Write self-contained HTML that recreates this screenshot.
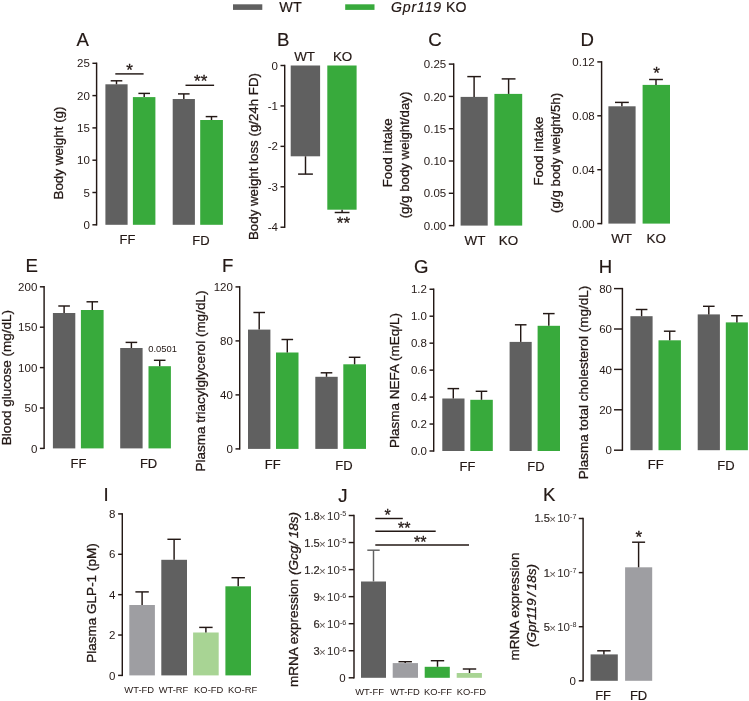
<!DOCTYPE html>
<html lang="en">
<head>
<meta charset="utf-8">
<title>Figure</title>
<style>
html,body{margin:0;padding:0;background:#fff;}
body{width:749px;height:701px;overflow:hidden;}
svg{display:block;}
svg text{font-family:"Liberation Sans",Arial,Helvetica,sans-serif;stroke:#231815;stroke-width:0.18px;}
svg text.t{stroke:none;}
svg text.b{stroke-width:0.3px;}
</style>
</head>
<body>
<svg width="749" height="701" viewBox="0 0 749 701">
<rect x="0" y="0" width="749" height="701" fill="#ffffff"/>
<rect x="233" y="4.3" width="29.3" height="5.6" fill="#606060"/>
<rect x="345.2" y="4.3" width="29.3" height="5.6" fill="#38aa3c"/>
<text x="279.3" y="12.2" font-size="14.4" text-anchor="start" fill="#231815">WT</text>
<text x="391" y="12.2" font-size="14.1" text-anchor="start" fill="#231815"><tspan font-style="italic" letter-spacing="0.85">Gpr119</tspan> KO</text>
<text x="76.5" y="46.4" font-size="18.6" text-anchor="start" fill="#231815">A</text>
<line x1="96.6" y1="62.58" x2="96.6" y2="225.53" stroke="#231815" stroke-width="1.45"/>
<line x1="92.4" y1="224.8" x2="96.6" y2="224.8" stroke="#231815" stroke-width="1.45"/>
<text x="89.8" y="228.9" font-size="11.5" text-anchor="end" fill="#231815" class="t">0</text>
<line x1="92.4" y1="192.5" x2="96.6" y2="192.5" stroke="#231815" stroke-width="1.45"/>
<text x="89.8" y="196.6" font-size="11.5" text-anchor="end" fill="#231815" class="t">5</text>
<line x1="92.4" y1="160.2" x2="96.6" y2="160.2" stroke="#231815" stroke-width="1.45"/>
<text x="89.8" y="164.3" font-size="11.5" text-anchor="end" fill="#231815" class="t">10</text>
<line x1="92.4" y1="127.9" x2="96.6" y2="127.9" stroke="#231815" stroke-width="1.45"/>
<text x="89.8" y="132" font-size="11.5" text-anchor="end" fill="#231815" class="t">15</text>
<line x1="92.4" y1="95.6" x2="96.6" y2="95.6" stroke="#231815" stroke-width="1.45"/>
<text x="89.8" y="99.7" font-size="11.5" text-anchor="end" fill="#231815" class="t">20</text>
<line x1="92.4" y1="63.3" x2="96.6" y2="63.3" stroke="#231815" stroke-width="1.45"/>
<text x="89.8" y="67.4" font-size="11.5" text-anchor="end" fill="#231815" class="t">25</text>
<text x="63.4" y="153" font-size="13.4" text-anchor="middle" fill="#231815" transform="rotate(-90 63.4 153)" class="b">Body weight (g)</text>
<rect x="105.4" y="84.3" width="22.2" height="140.5" fill="#606060"/>
<line x1="116.5" y1="84.3" x2="116.5" y2="80.8" stroke="#231815" stroke-width="1.45"/>
<line x1="110.7" y1="80.8" x2="122.3" y2="80.8" stroke="#231815" stroke-width="1.45"/>
<rect x="132.9" y="97.1" width="22.5" height="127.7" fill="#38aa3c"/>
<line x1="144.2" y1="97.1" x2="144.2" y2="93.4" stroke="#231815" stroke-width="1.45"/>
<line x1="138.4" y1="93.4" x2="150" y2="93.4" stroke="#231815" stroke-width="1.45"/>
<rect x="172.7" y="99" width="22.2" height="125.8" fill="#606060"/>
<line x1="183.8" y1="99" x2="183.8" y2="93.9" stroke="#231815" stroke-width="1.45"/>
<line x1="178" y1="93.9" x2="189.6" y2="93.9" stroke="#231815" stroke-width="1.45"/>
<rect x="200.2" y="120" width="22.7" height="104.8" fill="#38aa3c"/>
<line x1="211.5" y1="120" x2="211.5" y2="116.6" stroke="#231815" stroke-width="1.45"/>
<line x1="205.7" y1="116.6" x2="217.3" y2="116.6" stroke="#231815" stroke-width="1.45"/>
<line x1="115.3" y1="73.9" x2="143.6" y2="73.9" stroke="#231815" stroke-width="1.45"/>
<text x="129.5" y="75.5" font-size="17" text-anchor="middle" fill="#231815" class="b">*</text>
<line x1="185.5" y1="85.3" x2="214.1" y2="85.3" stroke="#231815" stroke-width="1.45"/>
<text x="200.7" y="87" font-size="17" text-anchor="middle" fill="#231815" class="b">**</text>
<text x="127.5" y="244.4" font-size="13" text-anchor="middle" fill="#231815">FF</text>
<text x="200.9" y="245" font-size="13" text-anchor="middle" fill="#231815">FD</text>
<text x="277" y="45.6" font-size="18.6" text-anchor="start" fill="#231815">B</text>
<line x1="284.7" y1="64.78" x2="284.7" y2="227.94" stroke="#231815" stroke-width="1.45"/>
<line x1="280.5" y1="65.5" x2="284.7" y2="65.5" stroke="#231815" stroke-width="1.45"/>
<text x="277.9" y="69.6" font-size="11.5" text-anchor="end" fill="#231815" class="t">0</text>
<line x1="280.5" y1="105.93" x2="284.7" y2="105.93" stroke="#231815" stroke-width="1.45"/>
<text x="277.9" y="110.03" font-size="11.5" text-anchor="end" fill="#231815" class="t">-1</text>
<line x1="280.5" y1="146.36" x2="284.7" y2="146.36" stroke="#231815" stroke-width="1.45"/>
<text x="277.9" y="150.46" font-size="11.5" text-anchor="end" fill="#231815" class="t">-2</text>
<line x1="280.5" y1="186.79" x2="284.7" y2="186.79" stroke="#231815" stroke-width="1.45"/>
<text x="277.9" y="190.89" font-size="11.5" text-anchor="end" fill="#231815" class="t">-3</text>
<line x1="280.5" y1="227.22" x2="284.7" y2="227.22" stroke="#231815" stroke-width="1.45"/>
<text x="277.9" y="231.32" font-size="11.5" text-anchor="end" fill="#231815" class="t">-4</text>
<text x="257.6" y="156.5" font-size="13.3" text-anchor="middle" fill="#231815" transform="rotate(-90 257.6 156.5)" class="b">Body weight loss (g/24h FD)</text>
<rect x="290.7" y="65.5" width="29.4" height="90.8" fill="#606060"/>
<line x1="305.5" y1="156.3" x2="305.5" y2="174.1" stroke="#231815" stroke-width="1.45"/>
<line x1="298.1" y1="174.1" x2="312.9" y2="174.1" stroke="#231815" stroke-width="1.45"/>
<rect x="327.3" y="65.5" width="29.3" height="144.2" fill="#38aa3c"/>
<line x1="342.1" y1="209.7" x2="342.1" y2="212.5" stroke="#231815" stroke-width="1.45"/>
<line x1="334.7" y1="212.5" x2="349.5" y2="212.5" stroke="#231815" stroke-width="1.45"/>
<text x="304.6" y="60.7" font-size="13.4" text-anchor="middle" fill="#231815">WT</text>
<text x="342.6" y="60.7" font-size="13.4" text-anchor="middle" fill="#231815">KO</text>
<text x="343.4" y="229.4" font-size="17" text-anchor="middle" fill="#231815" class="b">**</text>
<text x="428.2" y="46.4" font-size="18.6" text-anchor="start" fill="#231815">C</text>
<line x1="453.7" y1="63.37" x2="453.7" y2="226.32" stroke="#231815" stroke-width="1.45"/>
<line x1="448.8" y1="225.6" x2="453.7" y2="225.6" stroke="#231815" stroke-width="1.45"/>
<text x="446.2" y="229.7" font-size="11.5" text-anchor="end" fill="#231815" class="t">0.00</text>
<line x1="448.8" y1="193.3" x2="453.7" y2="193.3" stroke="#231815" stroke-width="1.45"/>
<text x="446.2" y="197.4" font-size="11.5" text-anchor="end" fill="#231815" class="t">0.05</text>
<line x1="448.8" y1="161" x2="453.7" y2="161" stroke="#231815" stroke-width="1.45"/>
<text x="446.2" y="165.1" font-size="11.5" text-anchor="end" fill="#231815" class="t">0.10</text>
<line x1="448.8" y1="128.7" x2="453.7" y2="128.7" stroke="#231815" stroke-width="1.45"/>
<text x="446.2" y="132.8" font-size="11.5" text-anchor="end" fill="#231815" class="t">0.15</text>
<line x1="448.8" y1="96.4" x2="453.7" y2="96.4" stroke="#231815" stroke-width="1.45"/>
<text x="446.2" y="100.5" font-size="11.5" text-anchor="end" fill="#231815" class="t">0.20</text>
<line x1="448.8" y1="64.1" x2="453.7" y2="64.1" stroke="#231815" stroke-width="1.45"/>
<text x="446.2" y="68.2" font-size="11.5" text-anchor="end" fill="#231815" class="t">0.25</text>
<text x="392.4" y="152.8" font-size="13.2" text-anchor="middle" fill="#231815" transform="rotate(-90 392.4 152.8)" class="b">Food intake</text>
<text x="409.4" y="155" font-size="13.25" text-anchor="middle" fill="#231815" transform="rotate(-90 409.4 155)" class="b">(g/g body weight/day)</text>
<rect x="460.6" y="96.9" width="27.1" height="128.7" fill="#606060"/>
<line x1="474.1" y1="96.9" x2="474.1" y2="76.6" stroke="#231815" stroke-width="1.45"/>
<line x1="467.3" y1="76.6" x2="480.9" y2="76.6" stroke="#231815" stroke-width="1.45"/>
<rect x="494.4" y="93.9" width="27.8" height="131.7" fill="#38aa3c"/>
<line x1="508.6" y1="93.9" x2="508.6" y2="78.9" stroke="#231815" stroke-width="1.45"/>
<line x1="501.7" y1="78.9" x2="515.5" y2="78.9" stroke="#231815" stroke-width="1.45"/>
<text x="475" y="245.2" font-size="13.4" text-anchor="middle" fill="#231815">WT</text>
<text x="508.5" y="245.2" font-size="13.4" text-anchor="middle" fill="#231815">KO</text>
<text x="580.4" y="46.4" font-size="18.6" text-anchor="start" fill="#231815">D</text>
<line x1="601.6" y1="61.18" x2="601.6" y2="224.32" stroke="#231815" stroke-width="1.45"/>
<line x1="597.3" y1="223.6" x2="601.6" y2="223.6" stroke="#231815" stroke-width="1.45"/>
<text x="594.7" y="227.7" font-size="11.5" text-anchor="end" fill="#231815" class="t">0.00</text>
<line x1="597.3" y1="169.7" x2="601.6" y2="169.7" stroke="#231815" stroke-width="1.45"/>
<text x="594.7" y="173.8" font-size="11.5" text-anchor="end" fill="#231815" class="t">0.04</text>
<line x1="597.3" y1="115.8" x2="601.6" y2="115.8" stroke="#231815" stroke-width="1.45"/>
<text x="594.7" y="119.9" font-size="11.5" text-anchor="end" fill="#231815" class="t">0.08</text>
<line x1="597.3" y1="61.9" x2="601.6" y2="61.9" stroke="#231815" stroke-width="1.45"/>
<text x="594.7" y="66" font-size="11.5" text-anchor="end" fill="#231815" class="t">0.12</text>
<text x="543" y="151" font-size="13.2" text-anchor="middle" fill="#231815" transform="rotate(-90 543 151)" class="b">Food intake</text>
<text x="560" y="152.9" font-size="13.25" text-anchor="middle" fill="#231815" transform="rotate(-90 560 152.9)" class="b">(g/g body weight/5h)</text>
<rect x="608.4" y="106.3" width="27.2" height="117.3" fill="#606060"/>
<line x1="621.9" y1="106.3" x2="621.9" y2="102.4" stroke="#231815" stroke-width="1.45"/>
<line x1="615" y1="102.4" x2="628.8" y2="102.4" stroke="#231815" stroke-width="1.45"/>
<rect x="642.6" y="84.9" width="27.4" height="138.7" fill="#38aa3c"/>
<line x1="656" y1="84.9" x2="656" y2="79.5" stroke="#231815" stroke-width="1.45"/>
<line x1="649.1" y1="79.5" x2="662.9" y2="79.5" stroke="#231815" stroke-width="1.45"/>
<text x="656.6" y="79.4" font-size="17" text-anchor="middle" fill="#231815" class="b">*</text>
<text x="621.6" y="243.3" font-size="13.4" text-anchor="middle" fill="#231815">WT</text>
<text x="656.3" y="243.3" font-size="13.4" text-anchor="middle" fill="#231815">KO</text>
<text x="25.6" y="272.4" font-size="18.6" text-anchor="start" fill="#231815">E</text>
<line x1="44.1" y1="286.07" x2="44.1" y2="449.12" stroke="#231815" stroke-width="1.45"/>
<line x1="39.9" y1="448.4" x2="44.1" y2="448.4" stroke="#231815" stroke-width="1.45"/>
<text x="37.3" y="452.5" font-size="11.5" text-anchor="end" fill="#231815" class="t">0</text>
<line x1="39.9" y1="408" x2="44.1" y2="408" stroke="#231815" stroke-width="1.45"/>
<text x="37.3" y="412.1" font-size="11.5" text-anchor="end" fill="#231815" class="t">50</text>
<line x1="39.9" y1="367.6" x2="44.1" y2="367.6" stroke="#231815" stroke-width="1.45"/>
<text x="37.3" y="371.7" font-size="11.5" text-anchor="end" fill="#231815" class="t">100</text>
<line x1="39.9" y1="327.2" x2="44.1" y2="327.2" stroke="#231815" stroke-width="1.45"/>
<text x="37.3" y="331.3" font-size="11.5" text-anchor="end" fill="#231815" class="t">150</text>
<line x1="39.9" y1="286.8" x2="44.1" y2="286.8" stroke="#231815" stroke-width="1.45"/>
<text x="37.3" y="290.9" font-size="11.5" text-anchor="end" fill="#231815" class="t">200</text>
<text x="11" y="377.6" font-size="13.5" text-anchor="middle" fill="#231815" transform="rotate(-90 11 377.6)" class="b">Blood glucose (mg/dL)</text>
<rect x="52.9" y="313" width="22.4" height="135.4" fill="#606060"/>
<line x1="64.1" y1="313" x2="64.1" y2="306" stroke="#231815" stroke-width="1.45"/>
<line x1="58.3" y1="306" x2="69.9" y2="306" stroke="#231815" stroke-width="1.45"/>
<rect x="80.9" y="310" width="22.7" height="138.4" fill="#38aa3c"/>
<line x1="92.3" y1="310" x2="92.3" y2="301.8" stroke="#231815" stroke-width="1.45"/>
<line x1="86.5" y1="301.8" x2="98.1" y2="301.8" stroke="#231815" stroke-width="1.45"/>
<rect x="120.2" y="348" width="22.4" height="100.4" fill="#606060"/>
<line x1="131.4" y1="348" x2="131.4" y2="342.4" stroke="#231815" stroke-width="1.45"/>
<line x1="125.6" y1="342.4" x2="137.2" y2="342.4" stroke="#231815" stroke-width="1.45"/>
<rect x="148.5" y="366.2" width="22.4" height="82.2" fill="#38aa3c"/>
<line x1="159.7" y1="366.2" x2="159.7" y2="360.3" stroke="#231815" stroke-width="1.45"/>
<line x1="153.9" y1="360.3" x2="165.5" y2="360.3" stroke="#231815" stroke-width="1.45"/>
<text x="148.2" y="352.3" font-size="9.4" text-anchor="start" fill="#231815" class="t">0.0501</text>
<text x="78.5" y="467.5" font-size="13" text-anchor="middle" fill="#231815">FF</text>
<text x="148.6" y="468" font-size="13" text-anchor="middle" fill="#231815">FD</text>
<text x="221.9" y="272.4" font-size="18.6" text-anchor="start" fill="#231815">F</text>
<line x1="239.7" y1="286.17" x2="239.7" y2="449.62" stroke="#231815" stroke-width="1.45"/>
<line x1="235.5" y1="448.9" x2="239.7" y2="448.9" stroke="#231815" stroke-width="1.45"/>
<text x="232.9" y="453" font-size="11.5" text-anchor="end" fill="#231815" class="t">0</text>
<line x1="235.5" y1="394.9" x2="239.7" y2="394.9" stroke="#231815" stroke-width="1.45"/>
<text x="232.9" y="399" font-size="11.5" text-anchor="end" fill="#231815" class="t">40</text>
<line x1="235.5" y1="340.9" x2="239.7" y2="340.9" stroke="#231815" stroke-width="1.45"/>
<text x="232.9" y="345" font-size="11.5" text-anchor="end" fill="#231815" class="t">80</text>
<line x1="235.5" y1="286.9" x2="239.7" y2="286.9" stroke="#231815" stroke-width="1.45"/>
<text x="232.9" y="291" font-size="11.5" text-anchor="end" fill="#231815" class="t">120</text>
<text x="204.5" y="381" font-size="13.5" text-anchor="middle" fill="#231815" transform="rotate(-90 204.5 381)" class="b">Plasma triacylglycerol (mg/dL)</text>
<rect x="248" y="329.6" width="22.4" height="119.3" fill="#606060"/>
<line x1="259.2" y1="329.6" x2="259.2" y2="312.5" stroke="#231815" stroke-width="1.45"/>
<line x1="253.4" y1="312.5" x2="265" y2="312.5" stroke="#231815" stroke-width="1.45"/>
<rect x="276" y="352.5" width="22.5" height="96.4" fill="#38aa3c"/>
<line x1="287.3" y1="352.5" x2="287.3" y2="339.5" stroke="#231815" stroke-width="1.45"/>
<line x1="281.5" y1="339.5" x2="293.1" y2="339.5" stroke="#231815" stroke-width="1.45"/>
<rect x="315.3" y="376.8" width="22.4" height="72.1" fill="#606060"/>
<line x1="326.5" y1="376.8" x2="326.5" y2="372.8" stroke="#231815" stroke-width="1.45"/>
<line x1="320.7" y1="372.8" x2="332.3" y2="372.8" stroke="#231815" stroke-width="1.45"/>
<rect x="343.3" y="364.3" width="22.7" height="84.6" fill="#38aa3c"/>
<line x1="354.6" y1="364.3" x2="354.6" y2="357.3" stroke="#231815" stroke-width="1.45"/>
<line x1="348.8" y1="357.3" x2="360.4" y2="357.3" stroke="#231815" stroke-width="1.45"/>
<text x="272.7" y="468.9" font-size="13" text-anchor="middle" fill="#231815">FF</text>
<text x="343.9" y="469.7" font-size="13" text-anchor="middle" fill="#231815">FD</text>
<text x="414" y="272.7" font-size="18.6" text-anchor="start" fill="#231815">G</text>
<line x1="433.7" y1="288.51" x2="433.7" y2="451.73" stroke="#231815" stroke-width="1.45"/>
<line x1="429.5" y1="451" x2="433.7" y2="451" stroke="#231815" stroke-width="1.45"/>
<text x="426.9" y="455.1" font-size="11.5" text-anchor="end" fill="#231815" class="t">0.0</text>
<line x1="429.5" y1="424.04" x2="433.7" y2="424.04" stroke="#231815" stroke-width="1.45"/>
<text x="426.9" y="428.14" font-size="11.5" text-anchor="end" fill="#231815" class="t">0.2</text>
<line x1="429.5" y1="397.08" x2="433.7" y2="397.08" stroke="#231815" stroke-width="1.45"/>
<text x="426.9" y="401.18" font-size="11.5" text-anchor="end" fill="#231815" class="t">0.4</text>
<line x1="429.5" y1="370.12" x2="433.7" y2="370.12" stroke="#231815" stroke-width="1.45"/>
<text x="426.9" y="374.22" font-size="11.5" text-anchor="end" fill="#231815" class="t">0.6</text>
<line x1="429.5" y1="343.16" x2="433.7" y2="343.16" stroke="#231815" stroke-width="1.45"/>
<text x="426.9" y="347.26" font-size="11.5" text-anchor="end" fill="#231815" class="t">0.8</text>
<line x1="429.5" y1="316.2" x2="433.7" y2="316.2" stroke="#231815" stroke-width="1.45"/>
<text x="426.9" y="320.3" font-size="11.5" text-anchor="end" fill="#231815" class="t">1.0</text>
<line x1="429.5" y1="289.24" x2="433.7" y2="289.24" stroke="#231815" stroke-width="1.45"/>
<text x="426.9" y="293.34" font-size="11.5" text-anchor="end" fill="#231815" class="t">1.2</text>
<text x="398.7" y="380.5" font-size="13.5" text-anchor="middle" fill="#231815" transform="rotate(-90 398.7 380.5)" class="b">Plasma NEFA (mEq/L)</text>
<rect x="442.3" y="398.5" width="22.2" height="52.5" fill="#606060"/>
<line x1="453.3" y1="398.5" x2="453.3" y2="388.6" stroke="#231815" stroke-width="1.45"/>
<line x1="447.5" y1="388.6" x2="459.1" y2="388.6" stroke="#231815" stroke-width="1.45"/>
<rect x="470.3" y="399.8" width="22.5" height="51.2" fill="#38aa3c"/>
<line x1="481.5" y1="399.8" x2="481.5" y2="391.3" stroke="#231815" stroke-width="1.45"/>
<line x1="475.7" y1="391.3" x2="487.3" y2="391.3" stroke="#231815" stroke-width="1.45"/>
<rect x="509.6" y="341.9" width="22.1" height="109.1" fill="#606060"/>
<line x1="520.7" y1="341.9" x2="520.7" y2="324.8" stroke="#231815" stroke-width="1.45"/>
<line x1="514.9" y1="324.8" x2="526.5" y2="324.8" stroke="#231815" stroke-width="1.45"/>
<rect x="537.6" y="325.8" width="22.4" height="125.2" fill="#38aa3c"/>
<line x1="548.8" y1="325.8" x2="548.8" y2="313.6" stroke="#231815" stroke-width="1.45"/>
<line x1="543" y1="313.6" x2="554.6" y2="313.6" stroke="#231815" stroke-width="1.45"/>
<text x="467.4" y="470.7" font-size="13" text-anchor="middle" fill="#231815">FF</text>
<text x="536" y="471.3" font-size="13" text-anchor="middle" fill="#231815">FD</text>
<text x="598.7" y="272.7" font-size="18.6" text-anchor="start" fill="#231815">H</text>
<line x1="622.4" y1="287.88" x2="622.4" y2="450.93" stroke="#231815" stroke-width="1.45"/>
<line x1="614" y1="450.2" x2="622.4" y2="450.2" stroke="#231815" stroke-width="1.45"/>
<text x="612" y="454.3" font-size="11.5" text-anchor="end" fill="#231815" class="t">0</text>
<line x1="614" y1="409.8" x2="622.4" y2="409.8" stroke="#231815" stroke-width="1.45"/>
<text x="612" y="413.9" font-size="11.5" text-anchor="end" fill="#231815" class="t">20</text>
<line x1="614" y1="369.4" x2="622.4" y2="369.4" stroke="#231815" stroke-width="1.45"/>
<text x="612" y="373.5" font-size="11.5" text-anchor="end" fill="#231815" class="t">40</text>
<line x1="614" y1="329" x2="622.4" y2="329" stroke="#231815" stroke-width="1.45"/>
<text x="612" y="333.1" font-size="11.5" text-anchor="end" fill="#231815" class="t">60</text>
<line x1="614" y1="288.6" x2="622.4" y2="288.6" stroke="#231815" stroke-width="1.45"/>
<text x="612" y="292.7" font-size="11.5" text-anchor="end" fill="#231815" class="t">80</text>
<text x="588.4" y="382.5" font-size="13.5" text-anchor="middle" fill="#231815" transform="rotate(-90 588.4 382.5)" class="b">Plasma total cholesterol (mg/dL)</text>
<rect x="630.4" y="316.2" width="22.2" height="134" fill="#606060"/>
<line x1="641.6" y1="316.2" x2="641.6" y2="309.5" stroke="#231815" stroke-width="1.45"/>
<line x1="635.8" y1="309.5" x2="647.4" y2="309.5" stroke="#231815" stroke-width="1.45"/>
<rect x="658.5" y="340.3" width="22.4" height="109.9" fill="#38aa3c"/>
<line x1="669.7" y1="340.3" x2="669.7" y2="331.2" stroke="#231815" stroke-width="1.45"/>
<line x1="663.9" y1="331.2" x2="675.5" y2="331.2" stroke="#231815" stroke-width="1.45"/>
<rect x="697.7" y="314.4" width="22.2" height="135.8" fill="#606060"/>
<line x1="708.8" y1="314.4" x2="708.8" y2="306.3" stroke="#231815" stroke-width="1.45"/>
<line x1="703" y1="306.3" x2="714.6" y2="306.3" stroke="#231815" stroke-width="1.45"/>
<rect x="725.8" y="322.4" width="22.1" height="127.8" fill="#38aa3c"/>
<line x1="736.9" y1="322.4" x2="736.9" y2="315.7" stroke="#231815" stroke-width="1.45"/>
<line x1="731.1" y1="315.7" x2="742.7" y2="315.7" stroke="#231815" stroke-width="1.45"/>
<text x="655.8" y="469.4" font-size="13" text-anchor="middle" fill="#231815">FF</text>
<text x="725.9" y="470" font-size="13" text-anchor="middle" fill="#231815">FD</text>
<text x="103.6" y="500.8" font-size="18.6" text-anchor="start" fill="#231815">I</text>
<line x1="122.3" y1="513.19" x2="122.3" y2="676.12" stroke="#231815" stroke-width="1.45"/>
<line x1="118.1" y1="675.4" x2="122.3" y2="675.4" stroke="#231815" stroke-width="1.45"/>
<text x="115.5" y="679.5" font-size="11.5" text-anchor="end" fill="#231815" class="t">0</text>
<line x1="118.1" y1="635.03" x2="122.3" y2="635.03" stroke="#231815" stroke-width="1.45"/>
<text x="115.5" y="639.13" font-size="11.5" text-anchor="end" fill="#231815" class="t">2</text>
<line x1="118.1" y1="594.66" x2="122.3" y2="594.66" stroke="#231815" stroke-width="1.45"/>
<text x="115.5" y="598.76" font-size="11.5" text-anchor="end" fill="#231815" class="t">4</text>
<line x1="118.1" y1="554.29" x2="122.3" y2="554.29" stroke="#231815" stroke-width="1.45"/>
<text x="115.5" y="558.39" font-size="11.5" text-anchor="end" fill="#231815" class="t">6</text>
<line x1="118.1" y1="513.92" x2="122.3" y2="513.92" stroke="#231815" stroke-width="1.45"/>
<text x="115.5" y="518.02" font-size="11.5" text-anchor="end" fill="#231815" class="t">8</text>
<text x="96.2" y="603" font-size="13.5" text-anchor="middle" fill="#231815" transform="rotate(-90 96.2 603)" class="b">Plasma GLP-1 (pM)</text>
<rect x="129.3" y="605" width="25.6" height="70.4" fill="#9e9ea2"/>
<line x1="142.1" y1="605" x2="142.1" y2="591.9" stroke="#231815" stroke-width="1.45"/>
<line x1="135.4" y1="591.9" x2="148.8" y2="591.9" stroke="#231815" stroke-width="1.45"/>
<rect x="161.3" y="559.8" width="25.7" height="115.6" fill="#606060"/>
<line x1="174.1" y1="559.8" x2="174.1" y2="539.3" stroke="#231815" stroke-width="1.45"/>
<line x1="167.4" y1="539.3" x2="180.8" y2="539.3" stroke="#231815" stroke-width="1.45"/>
<rect x="193.1" y="632.5" width="25.6" height="42.9" fill="#a8d494"/>
<line x1="205.9" y1="632.5" x2="205.9" y2="627.4" stroke="#231815" stroke-width="1.45"/>
<line x1="199.2" y1="627.4" x2="212.6" y2="627.4" stroke="#231815" stroke-width="1.45"/>
<rect x="225.4" y="586.3" width="25.6" height="89.1" fill="#38aa3c"/>
<line x1="238.2" y1="586.3" x2="238.2" y2="577.7" stroke="#231815" stroke-width="1.45"/>
<line x1="231.5" y1="577.7" x2="244.9" y2="577.7" stroke="#231815" stroke-width="1.45"/>
<text x="139.2" y="692.8" font-size="9.4" text-anchor="middle" fill="#231815" class="t">WT-FD</text>
<text x="173.5" y="692.8" font-size="9.4" text-anchor="middle" fill="#231815" class="t">WT-RF</text>
<text x="208.7" y="692.8" font-size="9.4" text-anchor="middle" fill="#231815" class="t">KO-FD</text>
<text x="242.6" y="692.8" font-size="9.4" text-anchor="middle" fill="#231815" class="t">KO-RF</text>
<text x="338.2" y="502" font-size="18.6" text-anchor="start" fill="#231815">J</text>
<line x1="354" y1="514.77" x2="354" y2="678.52" stroke="#231815" stroke-width="1.45"/>
<line x1="348.7" y1="677.8" x2="354" y2="677.8" stroke="#231815" stroke-width="1.45"/>
<text x="345.6" y="681.9" font-size="11.5" text-anchor="end" fill="#231815" class="t">0</text>
<line x1="348.7" y1="650.75" x2="354" y2="650.75" stroke="#231815" stroke-width="1.45"/>
<text x="319.8" y="654.85" font-size="11.15" text-anchor="end" fill="#332c2a">3</text>
<text x="322.45" y="655.85" font-size="11.5" text-anchor="middle" fill="#5d5552" class="t">×</text>
<text x="327.1" y="654.85" font-size="11.5" text-anchor="start" fill="#332c2a" class="t">10</text>
<text x="339.9" y="651.65" font-size="7.2" text-anchor="start" fill="#332c2a" class="t">-6</text>
<line x1="348.7" y1="623.7" x2="354" y2="623.7" stroke="#231815" stroke-width="1.45"/>
<text x="319.8" y="627.8" font-size="11.15" text-anchor="end" fill="#332c2a">6</text>
<text x="322.45" y="628.8" font-size="11.5" text-anchor="middle" fill="#5d5552" class="t">×</text>
<text x="327.1" y="627.8" font-size="11.5" text-anchor="start" fill="#332c2a" class="t">10</text>
<text x="339.9" y="624.6" font-size="7.2" text-anchor="start" fill="#332c2a" class="t">-6</text>
<line x1="348.7" y1="596.65" x2="354" y2="596.65" stroke="#231815" stroke-width="1.45"/>
<text x="319.8" y="600.75" font-size="11.15" text-anchor="end" fill="#332c2a">9</text>
<text x="322.45" y="601.75" font-size="11.5" text-anchor="middle" fill="#5d5552" class="t">×</text>
<text x="327.1" y="600.75" font-size="11.5" text-anchor="start" fill="#332c2a" class="t">10</text>
<text x="339.9" y="597.55" font-size="7.2" text-anchor="start" fill="#332c2a" class="t">-6</text>
<line x1="348.7" y1="569.6" x2="354" y2="569.6" stroke="#231815" stroke-width="1.45"/>
<text x="319.8" y="573.7" font-size="11.15" text-anchor="end" fill="#332c2a">1.2</text>
<text x="322.45" y="574.7" font-size="11.5" text-anchor="middle" fill="#5d5552" class="t">×</text>
<text x="327.1" y="573.7" font-size="11.5" text-anchor="start" fill="#332c2a" class="t">10</text>
<text x="339.9" y="570.5" font-size="7.2" text-anchor="start" fill="#332c2a" class="t">-5</text>
<line x1="348.7" y1="542.55" x2="354" y2="542.55" stroke="#231815" stroke-width="1.45"/>
<text x="319.8" y="546.65" font-size="11.15" text-anchor="end" fill="#332c2a">1.5</text>
<text x="322.45" y="547.65" font-size="11.5" text-anchor="middle" fill="#5d5552" class="t">×</text>
<text x="327.1" y="546.65" font-size="11.5" text-anchor="start" fill="#332c2a" class="t">10</text>
<text x="339.9" y="543.45" font-size="7.2" text-anchor="start" fill="#332c2a" class="t">-5</text>
<line x1="348.7" y1="515.5" x2="354" y2="515.5" stroke="#231815" stroke-width="1.45"/>
<text x="319.8" y="519.6" font-size="11.15" text-anchor="end" fill="#332c2a">1.8</text>
<text x="322.45" y="520.6" font-size="11.5" text-anchor="middle" fill="#5d5552" class="t">×</text>
<text x="327.1" y="519.6" font-size="11.5" text-anchor="start" fill="#332c2a" class="t">10</text>
<text x="339.9" y="516.4" font-size="7.2" text-anchor="start" fill="#332c2a" class="t">-5</text>
<text x="298.4" y="599.5" font-size="13.5" text-anchor="middle" fill="#231815" transform="rotate(-90 298.4 599.5)" class="b">mRNA expression <tspan font-style="italic">(Gcg/ 18s)</tspan></text>
<rect x="361" y="581.5" width="25" height="96.3" fill="#606060"/>
<line x1="373.5" y1="581.5" x2="373.5" y2="550.2" stroke="#606060" stroke-width="1.45"/>
<line x1="367.3" y1="550.2" x2="379.7" y2="550.2" stroke="#606060" stroke-width="1.45"/>
<rect x="392.7" y="663.1" width="25.3" height="14.7" fill="#9e9ea2"/>
<line x1="405.2" y1="663.1" x2="405.2" y2="661.7" stroke="#231815" stroke-width="1.45"/>
<line x1="398.5" y1="661.7" x2="411.9" y2="661.7" stroke="#231815" stroke-width="1.45"/>
<rect x="424.7" y="666.8" width="25.1" height="11" fill="#38aa3c"/>
<line x1="437.5" y1="666.8" x2="437.5" y2="660.7" stroke="#231815" stroke-width="1.45"/>
<line x1="430.8" y1="660.7" x2="444.2" y2="660.7" stroke="#231815" stroke-width="1.45"/>
<rect x="456.7" y="673" width="25.2" height="4.8" fill="#a8d494"/>
<line x1="469.5" y1="673" x2="469.5" y2="669" stroke="#231815" stroke-width="1.45"/>
<line x1="462.8" y1="669" x2="476.2" y2="669" stroke="#231815" stroke-width="1.45"/>
<line x1="375.3" y1="518.5" x2="402.8" y2="518.5" stroke="#231815" stroke-width="1.45"/>
<text x="387.6" y="520.6" font-size="16" text-anchor="middle" fill="#231815" class="b">*</text>
<line x1="375.3" y1="531.3" x2="435.7" y2="531.3" stroke="#231815" stroke-width="1.45"/>
<text x="404.3" y="534.3" font-size="16" text-anchor="middle" fill="#231815" class="b">**</text>
<line x1="375.3" y1="544.9" x2="469" y2="544.9" stroke="#231815" stroke-width="1.45"/>
<text x="420.3" y="548" font-size="16" text-anchor="middle" fill="#231815" class="b">**</text>
<text x="369.6" y="694.5" font-size="9.4" text-anchor="middle" fill="#231815" class="t">WT-FF</text>
<text x="405" y="694.5" font-size="9.4" text-anchor="middle" fill="#231815" class="t">WT-FD</text>
<text x="438" y="694.5" font-size="9.4" text-anchor="middle" fill="#231815" class="t">KO-FF</text>
<text x="471.4" y="694.5" font-size="9.4" text-anchor="middle" fill="#231815" class="t">KO-FD</text>
<text x="543" y="500.8" font-size="18.6" text-anchor="start" fill="#231815">K</text>
<line x1="583.1" y1="517.77" x2="583.1" y2="681.52" stroke="#231815" stroke-width="1.45"/>
<line x1="578.8" y1="680.8" x2="583.1" y2="680.8" stroke="#231815" stroke-width="1.45"/>
<text x="575.8" y="684.9" font-size="11.5" text-anchor="end" fill="#231815" class="t">0</text>
<line x1="578.8" y1="626.7" x2="583.1" y2="626.7" stroke="#231815" stroke-width="1.45"/>
<text x="549.9" y="630.6" font-size="11.15" text-anchor="end" fill="#332c2a">5</text>
<text x="552.55" y="631.6" font-size="11.5" text-anchor="middle" fill="#5d5552" class="t">×</text>
<text x="557.2" y="630.6" font-size="11.5" text-anchor="start" fill="#332c2a" class="t">10</text>
<text x="570" y="627.4" font-size="7.2" text-anchor="start" fill="#332c2a" class="t">-8</text>
<line x1="578.8" y1="572.6" x2="583.1" y2="572.6" stroke="#231815" stroke-width="1.45"/>
<text x="549.9" y="576.5" font-size="11.15" text-anchor="end" fill="#332c2a">1</text>
<text x="552.55" y="577.5" font-size="11.5" text-anchor="middle" fill="#5d5552" class="t">×</text>
<text x="557.2" y="576.5" font-size="11.5" text-anchor="start" fill="#332c2a" class="t">10</text>
<text x="570" y="573.3" font-size="7.2" text-anchor="start" fill="#332c2a" class="t">-7</text>
<line x1="578.8" y1="518.5" x2="583.1" y2="518.5" stroke="#231815" stroke-width="1.45"/>
<text x="549.9" y="522.4" font-size="11.15" text-anchor="end" fill="#332c2a">1.5</text>
<text x="552.55" y="523.4" font-size="11.5" text-anchor="middle" fill="#5d5552" class="t">×</text>
<text x="557.2" y="522.4" font-size="11.5" text-anchor="start" fill="#332c2a" class="t">10</text>
<text x="570" y="519.2" font-size="7.2" text-anchor="start" fill="#332c2a" class="t">-7</text>
<text x="519.5" y="606.4" font-size="13.5" text-anchor="middle" fill="#231815" transform="rotate(-90 519.5 606.4)" class="b">mRNA expression</text>
<text x="536.1" y="605.5" font-size="13.5" text-anchor="middle" fill="#231815" transform="rotate(-90 536.1 605.5)" font-style="italic" style="word-spacing:-1.5px" class="b">(Gpr119 / 18s)</text>
<rect x="590.6" y="654.4" width="27.2" height="26.4" fill="#606060"/>
<line x1="603.9" y1="654.4" x2="603.9" y2="650.8" stroke="#231815" stroke-width="1.45"/>
<line x1="597.2" y1="650.8" x2="610.6" y2="650.8" stroke="#231815" stroke-width="1.45"/>
<rect x="625.1" y="567.3" width="27.1" height="113.5" fill="#9e9ea2"/>
<line x1="638.6" y1="567.3" x2="638.6" y2="542.2" stroke="#231815" stroke-width="1.45"/>
<line x1="632.1" y1="542.2" x2="645.1" y2="542.2" stroke="#231815" stroke-width="1.45"/>
<text x="638.8" y="543" font-size="17" text-anchor="middle" fill="#231815" class="b">*</text>
<text x="603.1" y="699.8" font-size="13" text-anchor="middle" fill="#231815">FF</text>
<text x="638.6" y="699.8" font-size="13" text-anchor="middle" fill="#231815">FD</text>
</svg>
</body>
</html>
